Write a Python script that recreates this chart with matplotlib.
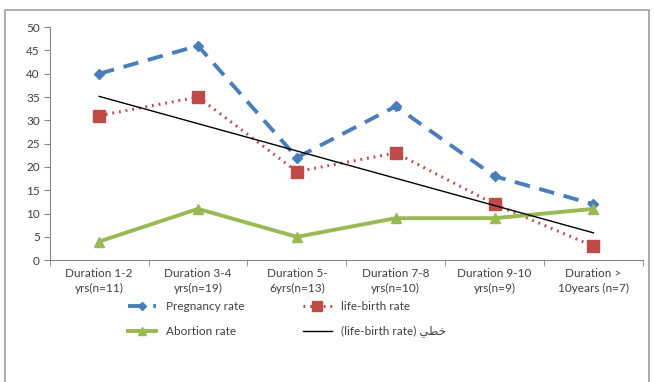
import numpy as np
import matplotlib
matplotlib.use('Agg')
import matplotlib.pyplot as plt
from matplotlib.patches import Rectangle

# Data
categories = ['Duration 1-2\nyrs(n=11)', 'Duration 3-4\nyrs(n=19)', 'Duration 5-\n6yrs(n=13)',
              'Duration 7-8\nyrs(n=10)', 'Duration 9-10\nyrs(n=9)', 'Duration >\n10years (n=7)']
pregnancy = [40, 46, 22, 33, 18, 12]
life_birth = [31, 35, 19, 23, 12, 3]
abortion = [4, 11, 5, 9, 9, 11]

# Arabic word "linear" in presentation forms, visual order
trend_label = '(life-birth rate) \uFEF2\uFEC4\uFEA7'

plt.rcParams['font.family'] = ['Lato', 'DejaVu Sans']

fig = plt.figure(figsize=(6.54, 3.82), dpi=100)
ax = fig.add_axes([0.076, 0.319, 0.907, 0.61])

x = np.arange(1, len(categories) + 1)

ax.plot(x, pregnancy, color='#4A7EBB', lw=2.8, linestyle=(0, (4, 2.5)),
        marker='D', markersize=5, label='Pregnancy rate')
ax.plot(x, life_birth, color='#BE4B48', lw=2.2, linestyle=(0, (0.6, 1.6)),
        marker='s', markersize=9, label='life-birth rate')
ax.plot(x, abortion, color='#98B954', lw=2.8, marker='^', markersize=7,
        label='Abortion rate')

# linear trend of life-birth rate
k, b = np.polyfit(x, life_birth, 1)
ax.plot(x, k * x + b, color='black', lw=1, label=trend_label)

ax.set_xlim(0.5, len(categories) + 0.5)
ax.set_ylim(0, 50)
ax.set_yticks(range(0, 51, 5))
ax.set_xticks(x)
ax.set_xticklabels(categories, linespacing=1.4)
ax.set_xticks(np.arange(0.5, len(categories) + 1, 1), minor=True)
ax.tick_params(axis='x', which='major', length=0, pad=6)
ax.tick_params(axis='x', which='minor', length=4, color='#868686')
ax.tick_params(axis='y', length=4, color='#868686', pad=3)
ax.tick_params(labelsize=8.5, labelcolor='#404040')

for s in ['top', 'right']:
    ax.spines[s].set_visible(False)
for s in ['left', 'bottom']:
    ax.spines[s].set_color('#868686')

# row-wise order: Pregnancy, life-birth / Abortion, trend
handles, labels = ax.get_legend_handles_labels()
order = [0, 2, 1, 3]
ax.legend([handles[i] for i in order], [labels[i] for i in order],
          loc='upper center', bbox_to_anchor=(0.40, -0.13), ncol=2,
          frameon=False, fontsize=8.5, handlelength=2.4, handletextpad=0.8,
          columnspacing=5.0, labelspacing=1.2, labelcolor='#404040',
          markerscale=0.8)

fig.patches.append(Rectangle((0.008, -0.01), 0.985, 0.985, transform=fig.transFigure,
                             fill=False, edgecolor='#A0A0A0', lw=1.2))

fig.savefig('out.png', dpi=100)
